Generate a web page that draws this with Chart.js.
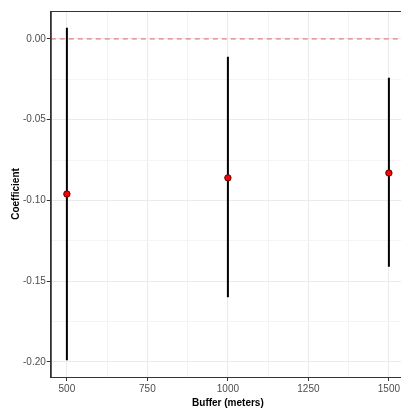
<!DOCTYPE html>
<html>
<head>
<meta charset="utf-8">
<script src="https://cdn.jsdelivr.net/npm/chart.js@4"></script>
<style>
  html, body { margin: 0; padding: 0; background: #fff; overflow: hidden; }
  #wrap { width: 410px; height: 408px; }
</style>
</head>
<body>
<div id="wrap"><canvas id="chart" width="410" height="408"></canvas></div>
<script>
const buffers = [500, 1000, 1500];
const coefs = [-0.096, -0.086, -0.083];
const lower = [-0.199, -0.160, -0.141];
const upper = [0.007, -0.011, -0.024];

const xTicks = [500, 625, 750, 875, 1000, 1125, 1250, 1375, 1500];
const xLabels = [500, 750, 1000, 1250, 1500];
const yTicks = [-0.2, -0.175, -0.15, -0.125, -0.1, -0.075, -0.05, -0.025, 0];
const yLabels = [-0.2, -0.15, -0.1, -0.05, 0];

const isMajor = (v, list) => list.some(l => Math.abs(l - v) < 1e-9);

const errorSets = buffers.map((b, i) => ({
  type: 'line',
  data: [{ x: b, y: lower[i] }, { x: b, y: upper[i] }],
  borderColor: '#000',
  borderWidth: 2,
  pointRadius: 0,
  order: 2
}));

const panelBorder = {
  id: 'panelBorder',
  afterDraw(chart) {
    const a = chart.chartArea;
    const ctx = chart.ctx;
    ctx.save();
    ctx.strokeStyle = '#333';
    ctx.lineWidth = 1;
    ctx.strokeRect(a.left + 0.5, a.top + 0.5, a.right - a.left, a.bottom - a.top);
    ctx.restore();
  }
};

const font = { family: 'Liberation Sans, Arial', size: 10 };
const titleFont = { family: 'Liberation Sans, Arial', size: 10, weight: 'bold' };

new Chart(document.getElementById('chart'), {
  type: 'scatter',
  data: {
    datasets: [
      {
        type: 'line',
        data: [{ x: 450, y: 0 }, { x: 1550, y: 0 }],
        borderColor: 'rgba(220,60,60,0.8)',
        borderWidth: 1,
        borderDash: [5, 4],
        pointRadius: 0,
        order: 3
      },
      ...errorSets,
      {
        data: buffers.map((b, i) => ({ x: b, y: coefs[i] })),
        backgroundColor: '#ff0000',
        borderColor: '#5a0000',
        borderWidth: 1,
        pointRadius: 3.2,
        order: 1
      }
    ]
  },
  options: {
    responsive: false,
    animation: false,
    layout: { padding: { left: 8, top: 11, right: 0, bottom: -1 } },
    plugins: { legend: { display: false }, tooltip: { enabled: false } },
    scales: {
      x: {
        type: 'linear',
        min: 450,
        max: 1550,
        afterBuildTicks: s => { s.ticks = xTicks.map(v => ({ value: v })); },
        ticks: {
          autoSkip: false,
          maxRotation: 0,
          padding: 2,
          color: '#4d4d4d',
          font: font,
          callback: v => isMajor(v, xLabels) ? String(v) : ''
        },
        grid: {
          color: c => isMajor(c.tick.value, xLabels) ? '#ebebeb' : '#f4f4f4',
          tickColor: c => isMajor(c.tick.value, xLabels) ? '#333' : 'rgba(0,0,0,0)',
          tickLength: 4
        },
        border: { color: '#333' },
        title: {
          display: true,
          text: 'Buffer (meters)',
          color: '#000',
          font: titleFont,
          padding: { top: 0, bottom: 0 }
        }
      },
      y: {
        min: -0.2093,
        max: 0.0173,
        afterBuildTicks: s => { s.ticks = yTicks.map(v => ({ value: v })); },
        ticks: {
          autoSkip: false,
          padding: 1,
          color: '#4d4d4d',
          font: font,
          callback: v => isMajor(v, yLabels) ? v.toFixed(2) : ''
        },
        grid: {
          color: c => isMajor(c.tick.value, yLabels) ? '#ebebeb' : '#f4f4f4',
          tickColor: c => isMajor(c.tick.value, yLabels) ? '#333' : 'rgba(0,0,0,0)',
          tickLength: 4
        },
        border: { color: '#333' },
        title: {
          display: true,
          text: 'Coefficient',
          color: '#000',
          font: titleFont,
          padding: { top: 2, bottom: 0 }
        }
      }
    }
  },
  plugins: [panelBorder]
});
</script>
</body>
</html>
